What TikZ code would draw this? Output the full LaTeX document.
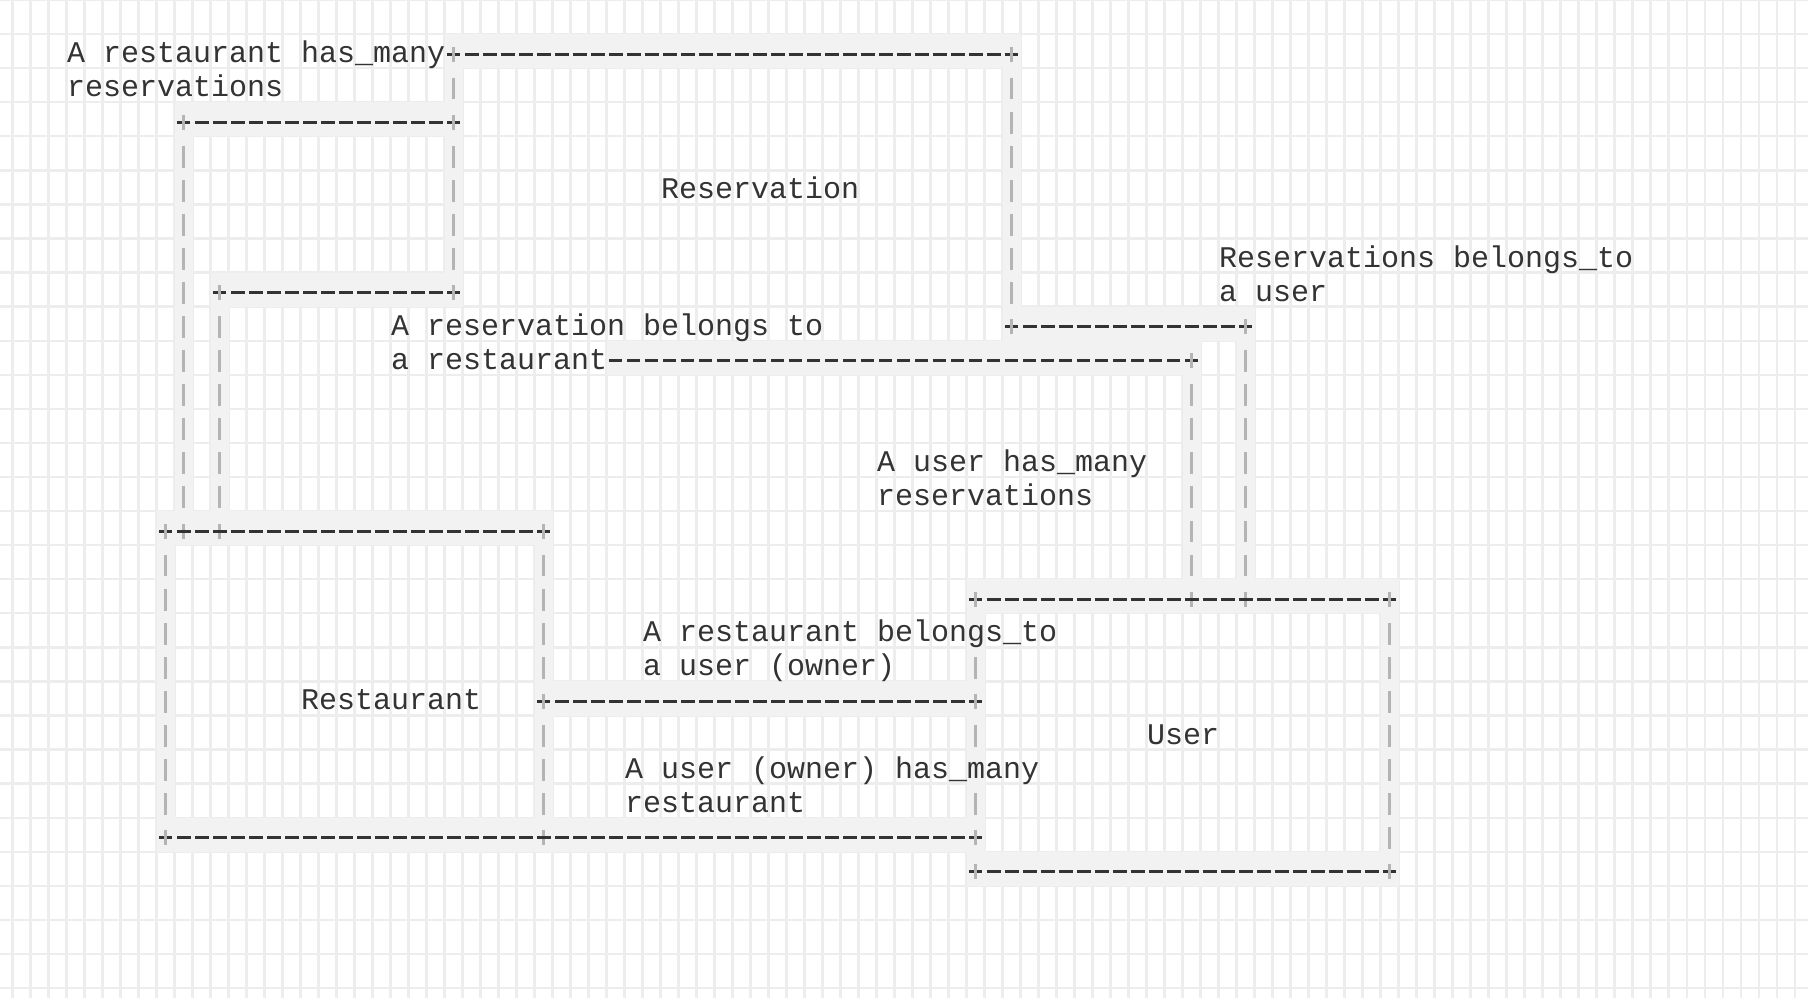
\documentclass[tikz,border=0pt]{standalone}
\usepackage{fontspec}
\usepackage{tikz}
\newfontfamily\asciifont{Liberation Mono}
\definecolor{ink}{HTML}{333333}
\definecolor{pipe}{HTML}{B4B4B4}
\definecolor{band}{HTML}{F2F2F2}
\definecolor{gridc}{HTML}{EDEDED}

\begin{document}
\begin{tikzpicture}
  [x=9pt,y=-17.035pt,every node/.style={inner sep=0pt},
   lbl/.style={anchor=base west,align=left,text=ink,
     font=\asciifont\fontsize{15pt}{17.035pt}\selectfont},
   plus/.style={minimum width=6.66pt,minimum height=10.9pt,
     path picture={
       \draw[ink,line width=1.4pt] (path picture bounding box.west) -- (path picture bounding box.east);
       \draw[pipe,line width=1.4pt] ([yshift=3.75pt]path picture bounding box.center) -- ([yshift=-3.75pt]path picture bounding box.center);}},
   hline/.style={draw=ink,line width=1.4pt,dash pattern=on 6.66pt off 2.34pt,dash phase=6.66pt},
   vline/.style={draw=pipe,line width=1.4pt,dash pattern=on 10.9pt off 6.13pt,dash phase=10.9pt}]

  \fill[white] (-4.2,-1.588) rectangle (96.24,27.705);
  \useasboundingbox (-4.2,-1.588) rectangle (96.24,27.705);

  % background grid
  \foreach \i in {-4,...,95}
    \draw[gridc,line width=1.2pt] (\i+.5,-1.588) -- (\i+.5,27.705);
  \foreach \j in {-2,...,27}
    \draw[gridc,line width=1.2pt] (-4.2,\j+.412) -- (96.24,\j+.412);

  % shaded cells under the lines
  \foreach \a/\b/\c/\d in {21/0/52/0,6/2/21/2,8/7/21/7,52/8/65/8,30/9/62/9,
      5/14/26/14,50/16/73/16,26/19/50/19,5/23/50/23,50/24/73/24,
      6/2/6/14,8/7/8/14,21/0/21/7,52/0/52/8,65/8/65/16,62/9/62/16,
      5/14/5/23,26/14/26/23,50/16/50/24,73/16/73/24}
    \fill[band] (\a-.5,\b-.588) rectangle (\c+.5,\d+.412);

  \node[plus] (p1) at (21,0) {};
  \node[plus] (p2) at (52,0) {};
  \node[plus] (p3) at (6,2) {};
  \node[plus] (p4) at (21,2) {};
  \node[plus] (p5) at (8,7) {};
  \node[plus] (p6) at (21,7) {};
  \node[plus] (p7) at (52,8) {};
  \node[plus] (p8) at (65,8) {};
  \node[plus] (p9) at (62,9) {};
  \node[plus] (p10) at (5,14) {};
  \node[plus] (p11) at (6,14) {};
  \node[plus] (p12) at (8,14) {};
  \node[plus] (p13) at (26,14) {};
  \node[plus] (p14) at (50,16) {};
  \node[plus] (p15) at (62,16) {};
  \node[plus] (p16) at (65,16) {};
  \node[plus] (p17) at (73,16) {};
  \node[plus] (p18) at (26,19) {};
  \node[plus] (p19) at (50,19) {};
  \node[plus] (p20) at (5,23) {};
  \node[plus] (p21) at (26,23) {};
  \node[plus] (p22) at (50,23) {};
  \node[plus] (p23) at (50,24) {};
  \node[plus] (p24) at (73,24) {};
  \coordinate (c0) at (29.37,9);

  \foreach \from/\to in {p1/p2,p3/p4,p5/p6,p7/p8,c0/p9,p10/p13,p14/p17,p18/p19,p20/p22,p23/p24}
    \draw[hline] (\from) -- (\to);
  \foreach \from/\to in {p1/p4,p4/p6,p3/p11,p5/p12,p2/p7,p8/p16,p9/p15,p10/p20,p13/p18,p18/p21,p17/p24}
    \draw[vline] (\from) -- (\to);
  % left side of User, broken where the labels run over it
  \draw[vline,dash pattern=on 10.9pt off 23.17pt] (p14) -- (p19);
  \draw[vline,dash pattern=on 10.9pt off 6.13pt on 10.9pt off 23.17pt] (p19) -- (p22);

  \node[lbl] (resv) at (32.5,4.25) {Reservation};
  \node[lbl] (rest) at (12.5,19.25) {Restaurant};
  \node[lbl] (user) at (59.5,20.25) {User};

  % two-line labels sit on the baseline of their last line
  \node[lbl] (t1) at (-0.5,1.25) {A restaurant has\_many\\reservations};
  \node[lbl] (t2) at (17.5,9.25) {A reservation belongs to\\a restaurant};
  \node[lbl] (t3) at (63.5,7.25) {Reservations belongs\_to\\a user};
  \node[lbl] (t4) at (44.5,13.25) {A user has\_many\\reservations};
  \node[lbl] (t5) at (31.5,18.25) {A restaurant belongs\_to\\a user (owner)};
  \node[lbl] (t6) at (30.5,22.25) {A user (owner) has\_many\\restaurant};

\end{tikzpicture}
\end{document}
